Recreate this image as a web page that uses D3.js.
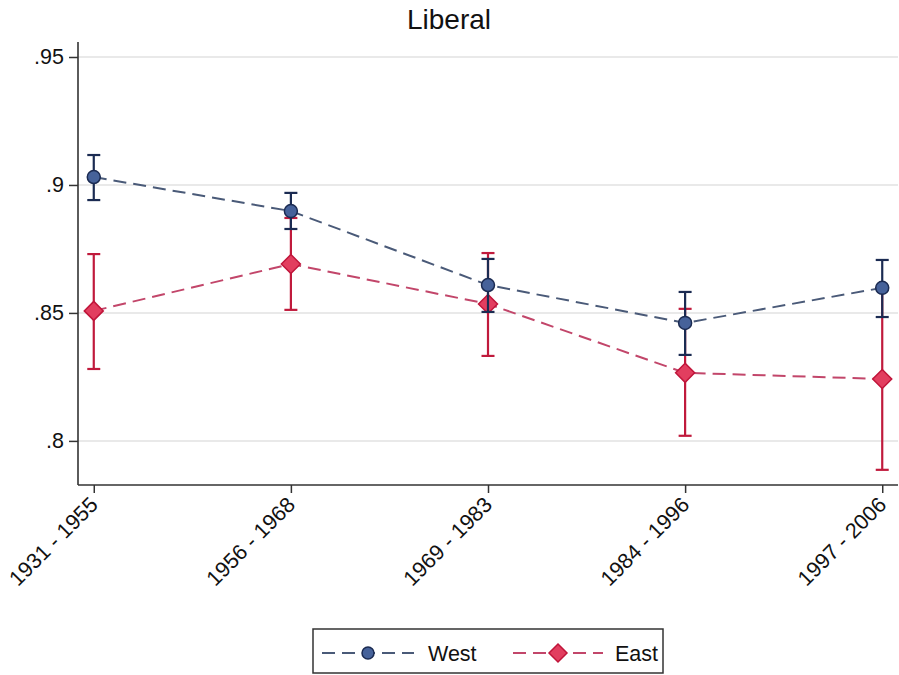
<!DOCTYPE html>
<html>
<head>
<meta charset="utf-8">
<script src="https://cdn.jsdelivr.net/npm/d3@7"></script>
<style>
  html, body { margin: 0; padding: 0; background: #fff; }
  svg { display: block; font-family: "Liberation Sans", Arial, sans-serif; }
</style>
</head>
<body>
<svg id="chart" width="899" height="675"></svg>
<script>
// Cohort groups on the x axis
const cohorts = ["1931 - 1955", "1956 - 1968", "1969 - 1983", "1984 - 1996", "1997 - 2006"];

// West: point estimates and 95% confidence bounds
const westMean = [0.9031, 0.8898, 0.8609, 0.8461, 0.8598];
const westLow  = [0.8941, 0.8828, 0.8504, 0.8336, 0.8484];
const westHigh = [0.9117, 0.8969, 0.8711, 0.8582, 0.8707];

// East: point estimates and 95% confidence bounds
const eastMean = [0.8508, 0.8691, 0.8535, 0.8266, 0.8242];
const eastLow  = [0.8281, 0.8512, 0.8332, 0.8020, 0.7887];
const eastHigh = [0.8730, 0.8871, 0.8734, 0.8516, 0.8598];

// Y axis ticks
const yTicks = [0.8, 0.85, 0.9, 0.95];
const yTickLabels = [".8", ".85", ".9", ".95"];

const svg = d3.select("#chart");

const plotLeft = 78, plotRight = 898, plotTop = 42, plotBottom = 485;
const labelSize = 21.5;

const x = d3.scalePoint().domain(cohorts).range([plotLeft, plotRight]).padding(0.08);
const y = d3.scaleLinear().domain([0.78277, 0.95586]).range([plotBottom, plotTop]);

// Title
svg.append("text")
  .attr("x", 449).attr("y", 29)
  .attr("text-anchor", "middle")
  .attr("font-size", 28)
  .attr("fill", "#111")
  .text("Liberal");

// Horizontal grid lines
svg.append("g").selectAll("line").data(yTicks).join("line")
  .attr("x1", plotLeft).attr("x2", plotRight)
  .attr("y1", d => y(d)).attr("y2", d => y(d))
  .attr("stroke", "#e2e2e2").attr("stroke-width", 1.5);

// Y axis
const yAxis = svg.append("g")
  .attr("transform", `translate(${plotLeft},0)`)
  .call(d3.axisLeft(y).tickValues(yTicks).tickSize(9).tickPadding(5)
        .tickFormat((d, i) => yTickLabels[i]).tickSizeOuter(0));
yAxis.select(".domain").attr("stroke", "#333").attr("stroke-width", 1.6)
  .attr("d", `M0,${plotTop}V${plotBottom}`);
yAxis.selectAll(".tick line").attr("stroke", "#333").attr("stroke-width", 1.5);
yAxis.selectAll(".tick text").attr("font-size", labelSize).attr("fill", "#111")
  .attr("font-family", "Liberation Sans, Arial, sans-serif");

// X axis
const xAxis = svg.append("g")
  .attr("transform", `translate(0,${plotBottom})`)
  .call(d3.axisBottom(x).tickSize(8).tickSizeOuter(0));
xAxis.select(".domain").attr("stroke", "#333").attr("stroke-width", 1.6)
  .attr("d", `M${plotLeft},0H${plotRight}`);
xAxis.selectAll(".tick line").attr("stroke", "#333").attr("stroke-width", 1.5);
xAxis.selectAll(".tick text")
  .attr("font-size", labelSize).attr("fill", "#111")
  .attr("font-family", "Liberation Sans, Arial, sans-serif")
  .attr("text-anchor", "end")
  .attr("dy", null)
  .attr("transform", "translate(5,21) rotate(-45)")
  .attr("x", 0).attr("y", 0);

// Series styles
const series = [
  { name: "East", mean: eastMean, low: eastLow, high: eastHigh,
    line: "#c2466a", ci: "#c01a3c", fill: "#e23e5f", stroke: "#c0153a", shape: "diamond" },
  { name: "West", mean: westMean, low: westLow, high: westHigh,
    line: "#4a5a78", ci: "#1b2b52", fill: "#46629a", stroke: "#1b2b52", shape: "circle" }
];

function drawMarker(g, shape, cx, cy, fill, stroke, size) {
  if (shape === "circle") {
    g.append("circle").attr("cx", cx).attr("cy", cy).attr("r", size)
      .attr("fill", fill).attr("stroke", stroke).attr("stroke-width", 1.5);
  } else {
    const s = size;
    g.append("path")
      .attr("d", `M${cx},${cy - s}L${cx + s},${cy}L${cx},${cy + s}L${cx - s},${cy}Z`)
      .attr("fill", fill).attr("stroke", stroke).attr("stroke-width", 1.5);
  }
}

const capW = 6.5;
series.forEach(s => {
  const g = svg.append("g");
  // confidence intervals
  cohorts.forEach((c, i) => {
    const cx = x(c);
    g.append("line").attr("x1", cx).attr("x2", cx)
      .attr("y1", y(s.low[i])).attr("y2", y(s.high[i]))
      .attr("stroke", s.ci).attr("stroke-width", 2.2);
    [s.low[i], s.high[i]].forEach(v => {
      g.append("line").attr("x1", cx - capW).attr("x2", cx + capW)
        .attr("y1", y(v)).attr("y2", y(v))
        .attr("stroke", s.ci).attr("stroke-width", 2.2);
    });
  });
  // dashed connecting line
  g.append("path")
    .datum(cohorts.map((c, i) => [x(c), y(s.mean[i])]))
    .attr("d", d3.line())
    .attr("fill", "none").attr("stroke", s.line)
    .attr("stroke-width", 2).attr("stroke-dasharray", "13,7");
  // markers
  cohorts.forEach((c, i) => {
    drawMarker(g, s.shape, x(c), y(s.mean[i]), s.fill, s.stroke, s.shape === "circle" ? 6.5 : 9.5);
  });
});

// Legend
const lg = svg.append("g");
lg.append("rect").attr("x", 313).attr("y", 629).attr("width", 350).attr("height", 44)
  .attr("fill", "#fff").attr("stroke", "#333").attr("stroke-width", 1.5);
const legendItems = [
  { s: series[1], x0: 322, x1: 414, label: "West", tx: 428 },
  { s: series[0], x0: 513, x1: 603, label: "East", tx: 615 }
];
legendItems.forEach(it => {
  const ly = 653;
  lg.append("line").attr("x1", it.x0).attr("x2", it.x1).attr("y1", ly).attr("y2", ly)
    .attr("stroke", it.s.line).attr("stroke-width", 2).attr("stroke-dasharray", "13,7");
  drawMarker(lg, it.s.shape, (it.x0 + it.x1) / 2, ly, it.s.fill, it.s.stroke,
             it.s.shape === "circle" ? 6 : 9);
  lg.append("text").attr("x", it.tx).attr("y", ly + 8).attr("font-size", labelSize)
    .attr("fill", "#111").text(it.label);
});
</script>
</body>
</html>
